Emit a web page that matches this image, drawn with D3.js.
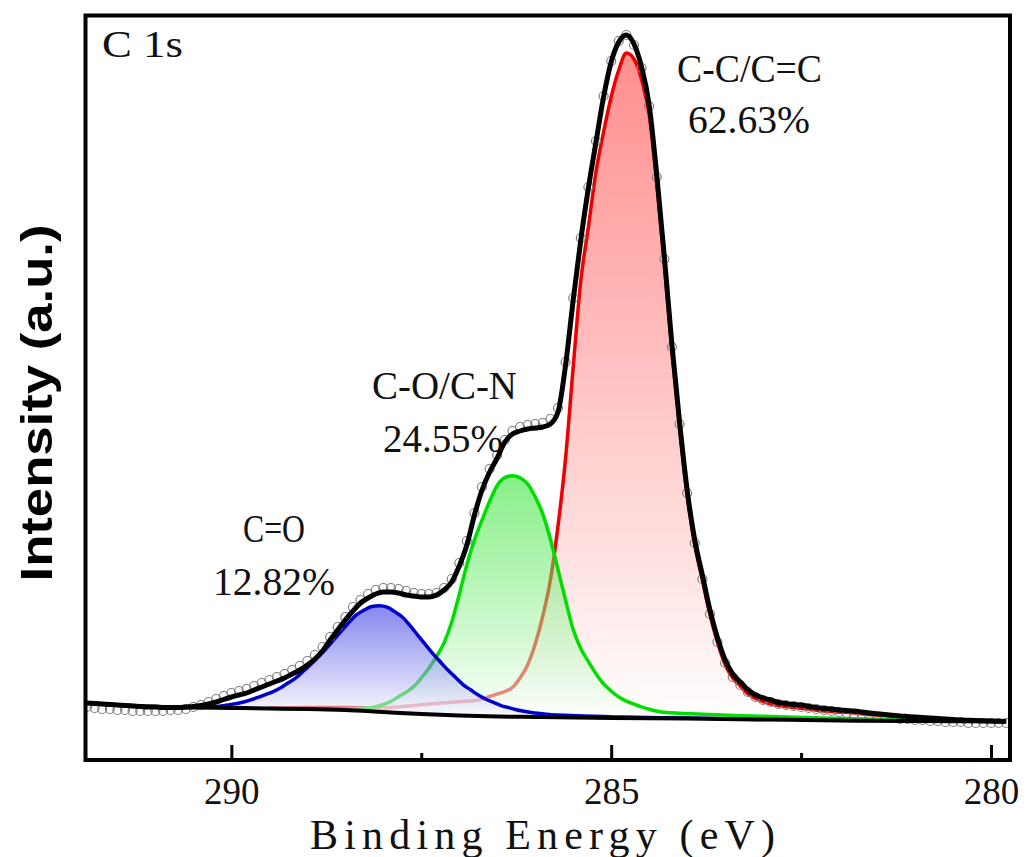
<!DOCTYPE html>
<html>
<head>
<meta charset="utf-8">
<script src="https://cdn.jsdelivr.net/npm/d3@7"></script>
<style>
  body { margin: 0; background: #fff; }
  svg { display: block; }
</style>
</head>
<body>
<svg id="chart" width="1027" height="857"></svg>
<script>
// C 1s spectrum, binding energy (eV) vs counts/s
var energy = [291.9,291.8,291.7,291.6,291.5,291.4,291.3,291.2,291.1,291.0,
  290.9,290.8,290.7,290.6,290.5,290.4,290.3,290.2,290.1,290.0,
  289.9,289.8,289.7,289.6,289.5,289.4,289.3,289.2,289.1,289.0,
  288.9,288.8,288.7,288.6,288.5,288.4,288.3,288.2,288.1,288.0,
  287.9,287.8,287.7,287.6,287.5,287.4,287.3,287.2,287.1,287.0,
  286.9,286.8,286.7,286.6,286.5,286.4,286.3,286.2,286.1,286.0,
  285.9,285.8,285.7,285.6,285.5,285.4,285.3,285.2,285.1,285.0,
  284.9,284.8,284.7,284.6,284.5,284.4,284.3,284.2,284.1,284.0,
  283.9,283.8,283.7,283.6,283.5,283.4,283.3,283.2,283.1,283.0,
  282.9,282.8,282.7,282.6,282.5,282.4,282.3,282.2,282.1,282.0,
  281.9,281.8,281.7,281.6,281.5,281.4,281.3,281.2,281.1,281.0,
  280.9,280.8,280.7,280.6,280.5,280.4,280.3,280.2,280.1,280.0,
  279.9,279.8];

var rawCounts = [1060,1040,1020,1020,1000,1000,980,980,980,980,
  980,1000,1000,1020,1060,1100,1160,1220,1280,1340,
  1380,1420,1480,1540,1600,1660,1720,1800,1880,1980,
  2100,2260,2460,2660,2860,3060,3200,3320,3400,3440,
  3440,3420,3380,3340,3320,3320,3340,3440,3620,3940,
  4380,4940,5460,5820,6100,6400,6580,6660,6700,6720,
  6740,6820,7040,7960,9240,10440,11460,12380,13280,13980,
  14380,14500,14300,13840,13080,11660,10020,8260,6720,5340,
  4340,3620,2920,2360,1940,1660,1500,1360,1260,1200,
  1160,1120,1100,1080,1060,1040,1020,1000,980,960,
  940,920,900,880,860,860,840,820,820,800,
  800,780,780,760,760,760,740,740,740,740,
  740,740];

var fitCounts = [1140,1130,1120,1110,1100,1090,1080,1070,1060,1060,
  1050,1050,1050,1060,1070,1090,1120,1160,1210,1260,
  1300,1340,1400,1460,1520,1580,1640,1720,1800,1900,
  2020,2180,2400,2600,2800,2980,3140,3240,3320,3360,
  3360,3340,3300,3280,3260,3260,3300,3400,3560,3880,
  4300,4900,5400,5760,6040,6360,6520,6580,6620,6640,
  6660,6720,6960,7900,9200,10400,11440,12360,13260,13960,
  14360,14500,14320,13860,13100,11700,10060,8300,6760,5400,
  4400,3700,3000,2440,2000,1720,1560,1400,1300,1240,
  1200,1150,1130,1110,1100,1070,1050,1030,1020,1000,
  990,980,960,940,925,910,895,880,870,860,
  850,840,830,820,810,800,795,790,785,780,
  775,770];

var bgE = [291.9,291.5,291.0,290.5,290.0,289.5,289.0,288.5,288.0,287.5,287.0,286.5,286.0,285.0,284.0,283.0,282.0,281.0,279.8];
var bgCounts = [1140,1100,1065,1048,1040,1030,1020,1000,960,920,890,870,860,840,830,810,790,780,770];

// C-C/C=C
var ccE = [289.5,289.0,288.5,288.0,287.5,287.0,286.8,286.7,286.6,286.5,286.4,286.3,286.2,286.1,286.0,
  285.9,285.8,285.7,285.6,285.5,285.4,285.3,285.2,285.1,285.0,284.9,284.8,284.7,284.6,284.5,
  284.4,284.3,284.2,284.1,284.0,283.9,283.8,283.7,283.6,283.5,283.4,283.3,283.2,283.1,283.0,
  282.8,282.6,282.4,282.2,282.0,281.8,281.6,281.4,281.2,281.0];
var ccCounts = [1040,1050,1050,1044,1104,1166,1190,1212,1270,1320,1370,1450,1640,1900,2320,
  2880,3600,4680,6040,7860,9580,10660,11760,12560,13260,13800,14140,14020,13610,12900,
  11540,9930,8180,6650,5290,4300,3600,2910,2350,1910,1640,1480,1320,1230,1170,
  1090,1050,1020,980,960,940,910,890,860,840];

// C-O/C-N
var coE = [289.4,289.0,288.6,288.3,288.1,287.9,287.8,287.7,287.6,287.5,287.4,287.3,287.2,287.1,287.0,
  286.9,286.8,286.7,286.6,286.5,286.4,286.3,286.2,286.1,286.0,285.9,285.8,285.7,285.6,
  285.5,285.4,285.3,285.2,285.1,285.0,284.9,284.8,284.7,284.5,284.3,283.8,283.3,282.8,282.0,281.0];
var coCounts = [1028,1022,1010,1030,1068,1172,1264,1356,1468,1640,1834,2068,2342,2756,3310,
  3906,4402,4798,5174,5490,5648,5686,5644,5522,5260,4918,4416,3814,3192,
  2610,2228,1966,1724,1522,1380,1259,1178,1117,1015,953,916,886,866,830,800];

// C=O
var cdoE = [290.25,290.05,289.85,289.65,289.55,289.45,289.35,289.25,289.15,289.05,288.95,288.85,
  288.75,288.65,288.55,288.45,288.35,288.25,288.15,288.05,287.95,287.85,287.75,287.65,
  287.55,287.45,287.35,287.25,287.15,287.05,286.95,286.85,286.75,286.65,286.55,286.45,
  286.35,286.25,286.05,285.85,285.45,284.85,284.0,283.0];
var cdoCounts = [1060,1100,1155,1251,1309,1368,1446,1545,1643,1781,1918,2074,
  2230,2406,2582,2756,2908,3000,3072,3084,3056,2968,2860,2692,
  2504,2317,2131,1965,1799,1653,1508,1404,1300,1216,1152,1089,
  1047,1005,951,917,883,858,840,810];

var xTicks = [290, 285, 280];
var xMinor = [287.5, 282.5];

var svg = d3.select("#chart");
var box = {left: 85.5, right: 1010, top: 15.5, bottom: 760};

var x = d3.scaleLinear().domain([291.92, 279.75]).range([box.left, box.right]);
var y = d3.scaleLinear().domain([0, 14890]).range([box.bottom, box.top]);
var bgAt = d3.scaleLinear().domain(bgE).range(bgCounts);

var defs = svg.append("defs");
defs.append("clipPath").attr("id", "clip")
  .append("rect")
  .attr("x", box.left).attr("y", box.top)
  .attr("width", box.right - box.left).attr("height", box.bottom - box.top);

function gradient(id, color) {
  var g = defs.append("linearGradient").attr("id", id)
    .attr("x1", 0).attr("y1", 0).attr("x2", 0).attr("y2", 1);
  g.append("stop").attr("offset", 0).attr("stop-color", color).attr("stop-opacity", 0.5);
  g.append("stop").attr("offset", 1).attr("stop-color", "#ffffff").attr("stop-opacity", 0.55);
}
gradient("gRed", "#ff2020");
gradient("gGreen", "#10e010");
gradient("gBlue", "#1010e0");

var plot = svg.append("g").attr("clip-path", "url(#clip)");

function zip(E, I) {
  return E.map(function(e, i) { return {e: e, v: I[i]}; });
}

var line = d3.line()
  .x(function(d) { return x(d.e); })
  .y(function(d) { return y(d.v); })
  .curve(d3.curveMonotoneX);

var area = d3.area()
  .x(function(d) { return x(d.e); })
  .y0(function(d) { return y(bgAt(d.e)); })
  .y1(function(d) { return y(d.v); })
  .curve(d3.curveMonotoneX);

var peaks = [
  {E: ccE, I: ccCounts, fill: "url(#gRed)", stroke: "#ee0000"},
  {E: coE, I: coCounts, fill: "url(#gGreen)", stroke: "#00dd00"},
  {E: cdoE, I: cdoCounts, fill: "url(#gBlue)", stroke: "#0000cc"}
];

peaks.forEach(function(p) {
  var data = zip(p.E, p.I);
  plot.append("path").datum(data)
    .attr("d", area)
    .attr("fill", p.fill);
  plot.append("path").datum(data)
    .attr("d", line)
    .attr("fill", "none")
    .attr("stroke", p.stroke)
    .attr("stroke-width", 3.5);
});

plot.append("g").selectAll("circle")
  .data(zip(energy, rawCounts))
  .enter().append("circle")
  .attr("cx", function(d) { return x(d.e); })
  .attr("cy", function(d) { return y(d.v); })
  .attr("r", 4.5)
  .attr("fill", "none")
  .attr("stroke", "#808080")
  .attr("stroke-width", 1.2);

plot.append("path").datum(zip(bgE, bgCounts))
  .attr("d", line)
  .attr("fill", "none")
  .attr("stroke", "#000")
  .attr("stroke-width", 4);

plot.append("path").datum(zip(energy, fitCounts))
  .attr("d", line)
  .attr("fill", "none")
  .attr("stroke", "#000")
  .attr("stroke-width", 5);

// axes
var xAxis = svg.append("g")
  .attr("transform", "translate(0," + box.bottom + ")")
  .call(d3.axisBottom(x).tickValues(xTicks).tickSize(-15).tickPadding(18).tickFormat(d3.format("d")));
xAxis.select(".domain").remove();
xAxis.selectAll(".tick line").attr("stroke", "#000").attr("stroke-width", 3);
xAxis.selectAll(".tick text")
  .attr("fill", "#111")
  .style("font-family", "'Liberation Serif', serif")
  .style("font-size", "37px");

var xAxisMinor = svg.append("g")
  .attr("transform", "translate(0," + box.bottom + ")")
  .call(d3.axisBottom(x).tickValues(xMinor).tickSize(-7).tickFormat(""));
xAxisMinor.select(".domain").remove();
xAxisMinor.selectAll(".tick line").attr("stroke", "#000").attr("stroke-width", 3);

svg.append("rect")
  .attr("x", box.left).attr("y", box.top)
  .attr("width", box.right - box.left).attr("height", box.bottom - box.top)
  .attr("fill", "none")
  .attr("stroke", "#000")
  .attr("stroke-width", 4);

var serif = "'Liberation Serif', serif";

svg.append("text")
  .attr("x", 310).attr("y", 849)
  .attr("textLength", 465).attr("lengthAdjust", "spacing")
  .style("font-family", serif).style("font-size", "42px")
  .attr("fill", "#111")
  .text("Binding Energy (eV)");

svg.append("text")
  .attr("transform", "translate(52,403) rotate(-90)")
  .attr("text-anchor", "middle")
  .attr("textLength", 357).attr("lengthAdjust", "spacingAndGlyphs")
  .style("font-family", "'Liberation Sans', Arial, sans-serif")
  .style("font-weight", "bold").style("font-size", "45px")
  .attr("fill", "#000")
  .text("Intensity (a.u.)");

var labels = [
  {t: "C 1s", x: 102, y: 57, w: 81, s: 38},
  {t: "C-C/C=C", x: 677, y: 82, w: 145, s: 41},
  {t: "62.63%", x: 688, y: 133, w: 122, s: 41},
  {t: "C-O/C-N", x: 372, y: 399, w: 145, s: 41},
  {t: "24.55%", x: 383, y: 452, w: 120, s: 41},
  {t: "C=O", x: 243, y: 542, w: 62, s: 41},
  {t: "12.82%", x: 213, y: 595, w: 122, s: 41}
];

svg.append("g").selectAll("text")
  .data(labels)
  .enter().append("text")
  .attr("x", function(d) { return d.x; })
  .attr("y", function(d) { return d.y; })
  .attr("textLength", function(d) { return d.w; })
  .attr("lengthAdjust", "spacingAndGlyphs")
  .style("font-family", serif)
  .style("font-size", function(d) { return d.s + "px"; })
  .attr("fill", "#111")
  .text(function(d) { return d.t; });
</script>
</body>
</html>
